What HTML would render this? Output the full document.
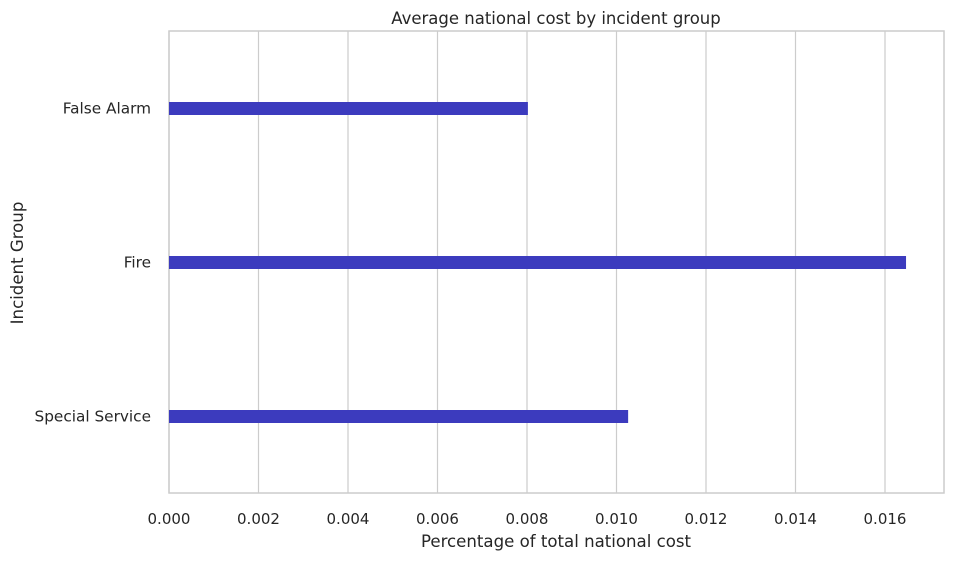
<!DOCTYPE html>
<html><head><meta charset="utf-8"><style>
body{margin:0;background:#fff;font-family:"Liberation Sans","DejaVu Sans",sans-serif;}
svg text{font-family:"DejaVu Sans","Liberation Sans",sans-serif;fill:#262626;}
</style></head><body>
<svg id="chart" width="953" height="560"></svg>
<script>
const categories = ["False Alarm","Fire","Special Service"];
const values = [0.00802, 0.01647, 0.01026];
const ticks = [0,0.002,0.004,0.006,0.008,0.010,0.012,0.014,0.016];
const tickLabels = ["0.000","0.002","0.004","0.006","0.008","0.010","0.012","0.014","0.016"];

const L=169,R=944,T=31,B=493;
const xs=v=>L+v*44750;
const yc=i=>108.5+i*154;
const svg=document.getElementById('chart');
const NS='http://www.w3.org/2000/svg';
function mk(tag,attrs,parent){const e=document.createElementNS(NS,tag);for(const k in attrs)e.setAttribute(k,attrs[k]);(parent||svg).appendChild(e);return e;}

ticks.forEach((t,i)=>{
  const g=mk('line',{x1:xs(t),x2:xs(t),y1:T,y2:B,stroke:'#cccccc','stroke-width':1.2});
  
  
  const tx=mk('text',{x:xs(t),y:524,'text-anchor':'middle','font-size':15});
  tx.textContent=tickLabels[i];
  
  
});
const frame=mk('rect',{x:L,y:T,width:R-L,height:B-T,fill:'none',stroke:'#cccccc','stroke-width':1.5});



categories.forEach((c,i)=>{
  const b=mk('rect',{x:xs(0),y:yc(i)-6.5,width:xs(values[i])-xs(0),height:13,fill:'#3c3bbe'});
  
  
  const t=mk('text',{x:151,y:yc(i)+5,'text-anchor':'end','font-size':15.3});
  t.textContent=c;
  
  
});

const title=mk('text',{x:556,y:24,'text-anchor':'middle','font-size':16.5});
title.textContent='Average national cost by incident group';


const xt=mk('text',{x:556,y:547,'text-anchor':'middle','font-size':16.6});
xt.textContent='Percentage of total national cost';


const yt=mk('text',{x:0,y:0,'text-anchor':'middle','font-size':16.6,transform:'translate(23,263) rotate(-90)'});
yt.textContent='Incident Group';


</script>
</body></html>
